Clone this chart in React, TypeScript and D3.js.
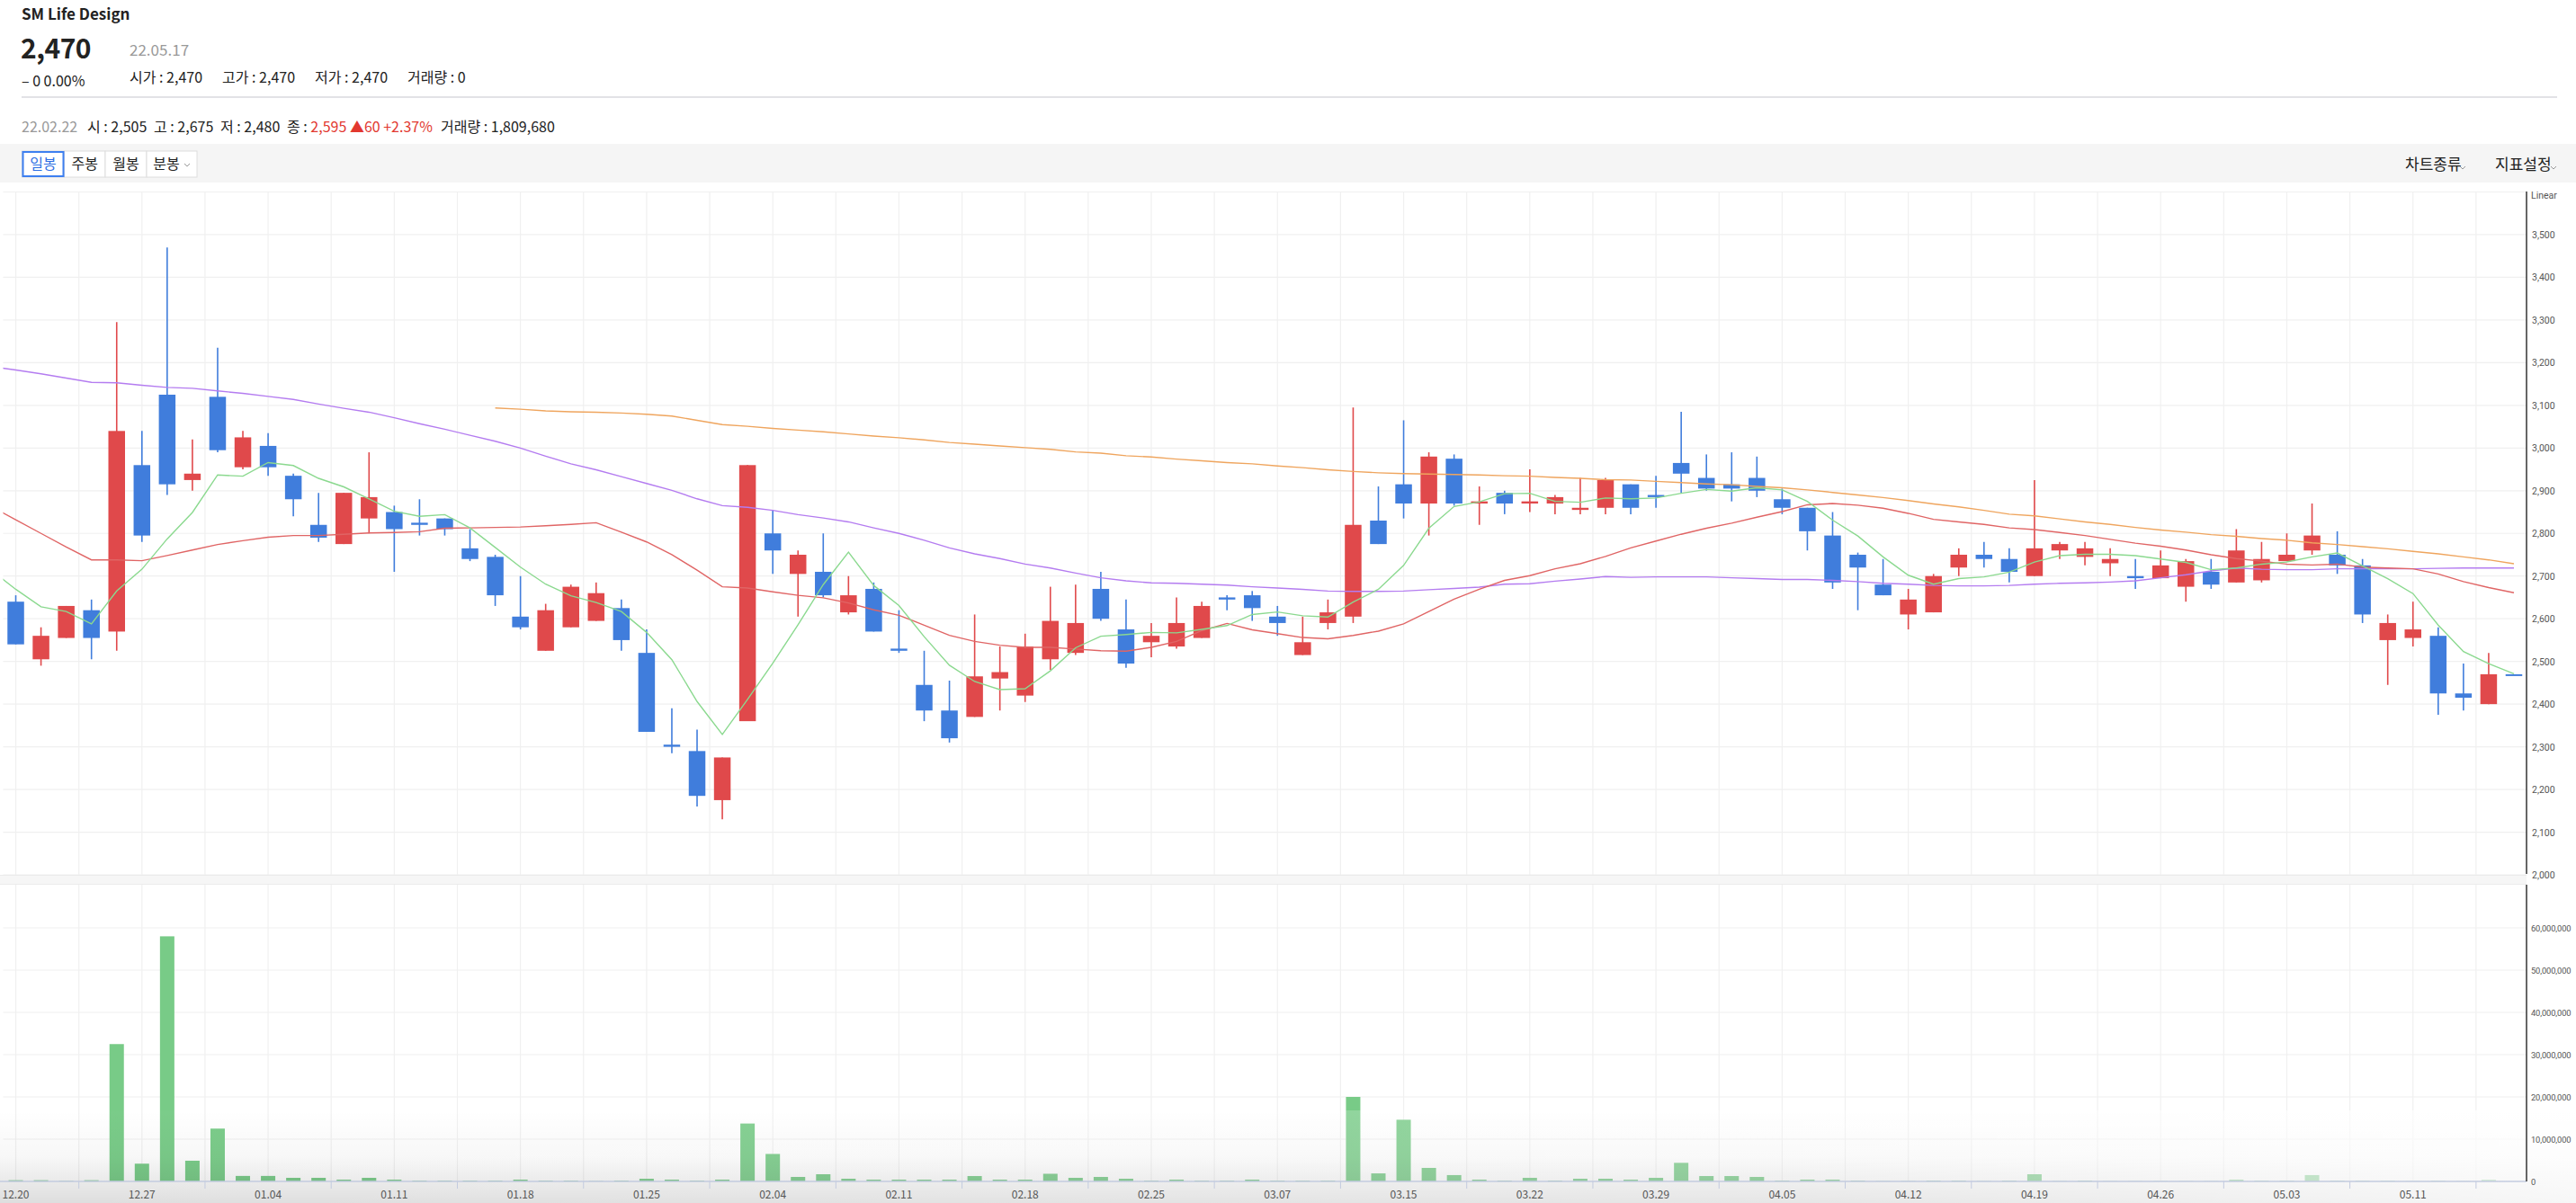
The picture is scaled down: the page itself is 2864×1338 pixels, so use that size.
import React from "react";
import * as d3 from "d3";

// ---------- data ----------
const tickLabels = ["12.20","12.27","01.04","01.11","01.18","01.25","02.04","02.11","02.18","02.25","03.07","03.15","03.22","03.29","04.05","04.12","04.19","04.26","05.03","05.11"];

const opens = [2640,2505,2555,2620,2570,2960,3125,2925,3120,2955,3005,2935,2820,2775,2835,2850,2825,2835,2765,2745,
2605,2525,2580,2595,2625,2520,2305,2290,2175,2360,2800,2705,2710,2615,2670,2530,2445,2385,2370,2460,
2420,2505,2520,2670,2575,2545,2535,2555,2650,2655,2605,2515,2590,2605,2830,2915,2870,2975,2870,2895,
2870,2870,2855,2860,2915,2890,2965,2930,2915,2930,2880,2860,2795,2750,2680,2610,2615,2720,2750,2740,
2700,2760,2745,2730,2700,2695,2675,2710,2685,2690,2735,2760,2750,2725,2550,2555,2560,2425,2400,2470];
const highs = [2655,2580,2630,2645,3295,3040,3470,3020,3235,3040,3035,2940,2895,2895,2990,2865,2880,2835,2810,2750,
2700,2635,2680,2685,2645,2575,2390,2340,2275,2960,2855,2760,2800,2700,2685,2620,2525,2455,2610,2535,
2565,2675,2680,2710,2645,2590,2650,2640,2655,2665,2630,2605,2645,3095,2910,3065,2990,2985,2910,2900,
2950,2890,2930,2930,2915,2935,3085,2985,2990,2980,2905,2860,2850,2755,2740,2670,2705,2765,2780,2765,
2925,2780,2780,2765,2740,2760,2740,2740,2810,2780,2800,2870,2805,2740,2610,2640,2580,2495,2520,2470];
const lows = [2540,2490,2555,2505,2525,2780,2890,2900,2990,2950,2935,2840,2780,2775,2800,2710,2795,2795,2735,2630,
2575,2525,2580,2595,2525,2335,2285,2160,2130,2360,2705,2605,2650,2610,2570,2520,2360,2310,2370,2385,
2405,2480,2515,2595,2485,2510,2530,2555,2620,2595,2560,2515,2575,2590,2775,2835,2795,2865,2820,2845,
2850,2845,2845,2845,2845,2860,2895,2900,2875,2885,2845,2760,2670,2620,2655,2575,2615,2700,2720,2685,
2700,2740,2725,2700,2670,2695,2640,2670,2685,2685,2735,2750,2705,2590,2445,2535,2375,2385,2400,2470];
const closes = [2540,2560,2630,2555,3040,2795,2915,2940,2995,3025,2955,2880,2790,2895,2885,2810,2820,2810,2740,2655,
2580,2620,2675,2660,2550,2335,2300,2185,2275,2960,2760,2750,2655,2655,2570,2525,2385,2320,2465,2475,
2535,2595,2590,2600,2495,2560,2590,2630,2645,2625,2590,2545,2615,2820,2775,2870,2980,2870,2875,2870,
2875,2885,2860,2925,2860,2885,2940,2905,2905,2900,2860,2805,2685,2720,2655,2645,2700,2750,2740,2710,
2765,2775,2765,2740,2695,2725,2735,2680,2760,2740,2750,2795,2725,2610,2590,2575,2425,2415,2470,2470];

// volume in millions of shares
const volumesM = [0.28,0.28,0.1,0.28,32.5,4.2,58,4.9,12.5,1.3,1.3,0.85,0.85,0.42,0.85,0.42,0.2,0.2,0.2,0.2,
0.42,0.2,0.2,0.08,0.2,0.63,0.42,0.2,0.42,13.7,6.5,1.06,1.7,0.63,0.42,0.42,0.42,0.42,1.27,0.42,
0.42,1.81,0.85,1.06,0.63,0.2,0.42,0.2,0.2,0.42,0.2,0.2,0.2,20,1.9,14.6,3.2,1.5,0.42,0.2,
0.85,0.2,0.63,0.63,0.42,0.85,4.4,1.27,1.27,1.06,0.2,0.42,0.42,0.2,0.08,0.08,0.2,0.2,0.08,0.2,
1.7,0.08,0.2,0.08,0.08,0.08,0.08,0.08,0.42,0.2,0.2,1.5,0.2,0.2,0.2,0.08,0.2,0.08,0.42,0];

// moving averages (value at index -1 first, for lines entering from the left edge)
const ma5Lead = [2715,2669,2628,2617,2588];
const ma20 = [2864,
2832,2800,2768,2738,2738,2736,2748,2761,2774,2783,2791,2795,2795,2798,2801,2802,2804,2812,2813,2814,
2815,2818,2821,2825,2803,2780,2750,2714,2675,2672,2663,2655,2649,2637,2621,2608,2585,2561,2547,2538,
2533,2533,2529,2525,2524,2533,2547,2572,2589,2574,2565,2556,2553,2561,2571,2588,2617,2646,2669,2690,
2701,2717,2729,2746,2766,2782,2798,2812,2824,2838,2851,2867,2870,2866,2859,2847,2833,2827,2821,2813,
2809,2802,2795,2786,2777,2770,2761,2750,2741,2735,2728,2726,2728,2721,2719,2717,2705,2687,2673,2661];
const ma60 = [3191,
3183,3174,3164,3154,3153,3147,3142,3140,3134,3128,3121,3114,3103,3093,3084,3071,3057,3044,3030,3016,
3000,2981,2963,2949,2933,2917,2901,2881,2865,2861,2854,2844,2836,2827,2813,2800,2784,2766,2752,2741,
2728,2719,2707,2696,2689,2684,2683,2681,2679,2675,2672,2669,2665,2664,2664,2665,2668,2671,2674,2681,
2682,2688,2693,2699,2697,2698,2698,2698,2696,2694,2692,2692,2690,2687,2683,2681,2678,2677,2677,2678,
2681,2683,2684,2686,2689,2696,2703,2712,2719,2716,2715,2715,2717,2717,2717,2717,2718,2719,2719,2719];
const ma120Start = 19;
const ma120 = [3094,
3091,3087,3085,3084,3082,3079,3075,3065,3055,3051,3046,3042,3038,3033,3028,3024,3019,3013,3009,3005,
3001,2997,2991,2988,2982,2979,2974,2970,2966,2963,2958,2954,2949,2945,2942,2940,2939,2938,2937,2935,
2934,2931,2929,2926,2925,2922,2919,2916,2914,2910,2907,2902,2896,2890,2884,2877,2869,2862,2854,2845,
2841,2834,2827,2821,2814,2808,2803,2797,2793,2788,2784,2778,2774,2769,2764,2758,2752,2745,2738,2729];

const priceTicks = [2000,2100,2200,2300,2400,2500,2600,2700,2800,2900,3000,3100,3200,3300,3400,3500];
const volTicksM = [0,10,20,30,40,50,60];

// ---------- styles ----------
const FONT = "'Noto Sans CJK KR', 'Noto Sans', Roboto, sans-serif";
const AXFONT = "Roboto, 'Noto Sans', sans-serif";
const UP = "#e0494b";
const DOWN = "#407ddc";
const VOLC = "#78cb87";
const GRID = "#f0f0f0";

export default function App() {
  const W = 2864, H = 1338;
  const n = closes.length;
  const xs = d3.scaleLinear().domain([-0.5, n - 0.5]).range([3.5, 2809]);
  const yP = d3.scaleLinear().domain([2000, 3600]).range([973, 213.5]);
  const yV = d3.scaleLinear().domain([0, 70]).range([1314, 985]);
  const plotL = xs(-0.5), plotR = xs(n - 0.5);
  const bw = 18.5, vw = 16;

  const ma5 = closes.map((_, i) => (i < 4 ? ma5Lead[i + 1] : (d3.mean(closes.slice(i - 4, i + 1)) as number)));
  const ma5Pts = [[-1, ma5Lead[0]], ...ma5.map((v, i) => [i, v])];
  const ma20Pts = ma20.map((v, k) => [k - 1, v]);
  const ma60Pts = ma60.map((v, k) => [k - 1, v]);
  const ma120Pts = ma120.map((v, k) => [k + ma120Start, v]);
  const line = d3.line<number[]>().x((d) => xs(d[0])).y((d) => yP(d[1]));

  const vGrid = d3.range(0, n, 2.5);
  const halfTicks = d3.range(2.5, n, 5);
  const fmt = d3.format(",");

  return (
    <div style={{ position: "absolute", left: 0, top: 0, width: W, height: H, background: "#fff" }}>
      <svg width={W} height={H} style={{ display: "block", fontFamily: FONT }}>
        <defs>
          <clipPath id="pclip">
            <rect x={plotL} y={213} width={plotR - plotL} height={760} />
          </clipPath>
          <linearGradient id="shade" x1="0" y1="0" x2="0" y2="1">
            <stop offset="0" stopColor="#000" stopOpacity="0" />
            <stop offset="0.5" stopColor="#000" stopOpacity="0.03" />
            <stop offset="1" stopColor="#000" stopOpacity="0.13" />
          </linearGradient>
          <linearGradient id="shadeH" x1="0" y1="0" x2="1" y2="0">
            <stop offset="0" stopColor="#fff" stopOpacity="0" />
            <stop offset="0.7" stopColor="#fff" stopOpacity="0.25" />
            <stop offset="1" stopColor="#fff" stopOpacity="0.75" />
          </linearGradient>
        </defs>

        {/* header */}
        <text x={24} y={22} fontSize={17} fontWeight={700} fill="#222">SM Life Design</text>
        <text x={23} y={65} fontSize={30} fontWeight={700} fill="#222" letterSpacing={-0.5}>2,470</text>
        <text x={144} y={62} fontSize={17} fill="#999">22.05.17</text>
        <text x={24} y={96} fontSize={16} fill="#222">– 0 0.00%</text>
        <g fontSize={16} fill="#222">
          <text x={144} y={92}>시가 : 2,470</text>
          <text x={247} y={92}>고가 : 2,470</text>
          <text x={350} y={92}>저가 : 2,470</text>
          <text x={453} y={92}>거래량 : 0</text>
        </g>
        <line x1={24} x2={2843} y1={108} y2={108} stroke="#e2e2e6" strokeWidth={2} />
        <g fontSize={16} fill="#222">
          <text x={24} y={147} fill="#999">22.02.22</text>
          <text x={97} y={147}>시 : 2,505</text>
          <text x={171} y={147}>고 : 2,675</text>
          <text x={245} y={147}>저 : 2,480</text>
          <text x={319} y={147}>종 : <tspan fill="#e2382f">2,595 ▲60 +2.37%</tspan></text>
          <text x={490} y={147}>거래량 : 1,809,680</text>
        </g>

        {/* toolbar */}
        <rect x={0} y={160} width={W} height={43} fill="#f5f5f5" />
        {[["일봉", 24.5, 71.5], ["주봉", 71.5, 117], ["월봉", 117, 163], ["분봉", 163, 219]].map(([t, a, b], k) => (
          <g key={String(t)}>
            <rect x={a as number} y={168} width={(b as number) - (a as number)} height={29} fill="#fff" stroke="#dedede" strokeWidth={1} />
            <text x={k === 3 ? (a as number) + 22 : ((a as number) + (b as number)) / 2} y={188} fontSize={16} textAnchor="middle" fill={k === 0 ? "#2f6fe3" : "#222"}>{t}</text>
          </g>
        ))}
        <rect x={25.5} y={169} width={45} height={27} fill="none" stroke="#3d7ff0" strokeWidth={2} />
        <path d="M205,182 l3,3 l3,-3" fill="none" stroke="#999" strokeWidth={1} />
        <text x={2674} y={189} fontSize={17} fill="#222">차트종류</text>
        <path d="M2735,185 l3,3 l3,-3" fill="none" stroke="#999" strokeWidth={1} />
        <text x={2774} y={189} fontSize={17} fill="#222">지표설정</text>
        <path d="M2836,185 l3,3 l3,-3" fill="none" stroke="#999" strokeWidth={1} />

        {/* grid */}
        <g stroke={GRID} strokeWidth={1.2}>
          {priceTicks.concat([3600]).map((v) => (
            <line key={"hp" + v} x1={plotL} x2={plotR} y1={yP(v)} y2={yP(v)} />
          ))}
          {volTicksM.slice(1).map((v) => (
            <line key={"hv" + v} x1={plotL} x2={plotR} y1={yV(v)} y2={yV(v)} />
          ))}
          {vGrid.map((i) => (
            <g key={"vg" + i}>
              <line x1={xs(i)} x2={xs(i)} y1={213} y2={973} />
              <line x1={xs(i)} x2={xs(i)} y1={984} y2={1314} />
            </g>
          ))}
        </g>
        <rect x={0} y={973} width={plotR} height={10} fill="#f6f6f6" />
        <line x1={0} x2={plotR} y1={973.5} y2={973.5} stroke="#ebebeb" />
        <line x1={0} x2={plotR} y1={983.5} y2={983.5} stroke="#ebebeb" />

        {/* candles */}
        <g>
          {closes.map((c, i) => {
            const o = opens[i];
            const col = c > o ? UP : DOWN;
            const top = yP(Math.max(o, c));
            const h = Math.max(2, Math.abs(yP(o) - yP(c)));
            return (
              <g key={"c" + i}>
                <line x1={xs(i)} x2={xs(i)} y1={yP(highs[i])} y2={yP(lows[i])} stroke={col} strokeWidth={1.6} />
                <rect x={xs(i) - bw / 2} y={top} width={bw} height={h} fill={col} />
              </g>
            );
          })}
        </g>

        {/* moving averages */}
        <g clipPath="url(#pclip)" fill="none" strokeWidth={1.4}>
          <path d={line(ma120Pts) || ""} stroke="#efa55e" />
          <path d={line(ma60Pts) || ""} stroke="#b47cf0" />
          <path d={line(ma20Pts) || ""} stroke="#e06565" />
          <path d={line(ma5Pts) || ""} stroke="#8bd98f" />
        </g>

        {/* volume */}
        <g fill={VOLC}>
          {volumesM.map((v, i) => (
            <rect key={"v" + i} x={xs(i) - vw / 2} y={yV(v)} width={vw} height={1314 - yV(v)} />
          ))}
        </g>

        {/* bottom shading */}
        <rect x={0} y={1235} width={W} height={H - 1235} fill="url(#shade)" />
        <rect x={0} y={1235} width={W} height={H - 1235} fill="url(#shadeH)" />

        {/* x axis */}
        <line x1={0} x2={plotR} y1={1314} y2={1314} stroke="#c3cbdf" strokeWidth={1.5} />
        {halfTicks.map((i) => (
          <line key={"t" + i} x1={xs(i)} x2={xs(i)} y1={1314} y2={1322} stroke="#c3cbdf" strokeWidth={1} />
        ))}
        {tickLabels.map((t, k) => (
          <text key={t} x={xs(k * 5)} y={1333} fontSize={12} textAnchor="middle" fill="#555">{t}</text>
        ))}

        {/* right axes */}
        <line x1={plotR} x2={plotR} y1={213} y2={972} stroke="#333" strokeWidth={1.5} />
        <line x1={plotR} x2={plotR} y1={984} y2={1314} stroke="#333" strokeWidth={1.5} />
        <g fontFamily={AXFONT} fontSize={10.5} fill="#555">
          <text x={2814} y={221}>Linear</text>
          {priceTicks.map((v) => (
            <text key={"pt" + v} x={2815} y={yP(v) + 4}>{fmt(v)}</text>
          ))}
        </g>
        <g fontFamily={AXFONT} fontSize={9.3} fill="#555" letterSpacing={-0.1}>
          {volTicksM.map((v) => (
            <text key={"vt" + v} x={2814} y={yV(v) + 3.5}>{fmt(v * 1e6)}</text>
          ))}
        </g>
      </svg>
    </div>
  );
}
